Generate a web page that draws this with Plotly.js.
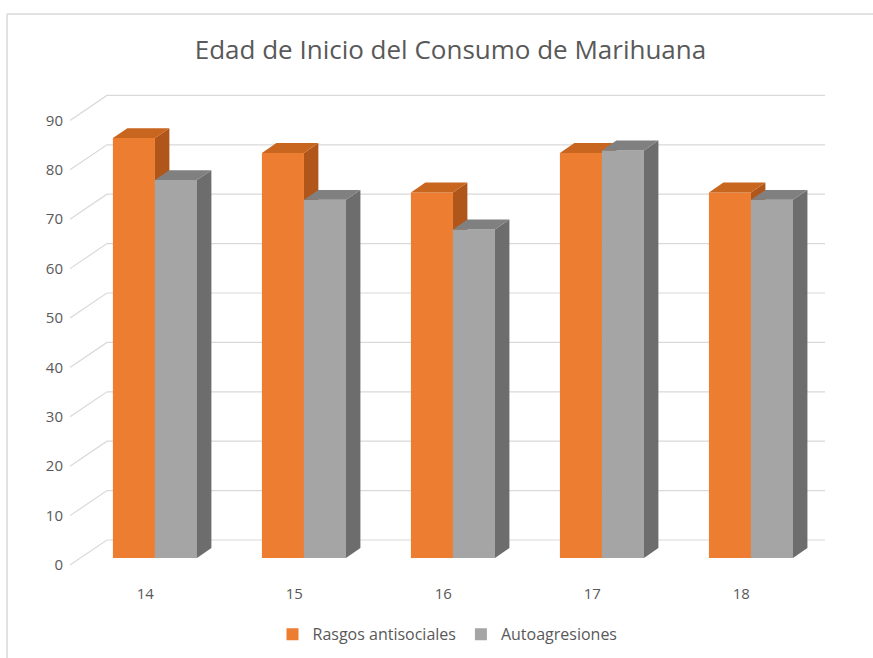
<!DOCTYPE html>
<html>
<head>
<meta charset="utf-8">
<script src="https://cdn.plot.ly/plotly-3.0.1.min.js"></script>
<style>
  html, body { margin: 0; padding: 0; background: #ffffff; }
  #chart { width: 873px; height: 658px; }
</style>
</head>
<body>
<div id="chart"></div>
<script>
// ---- data ----
const categories = ['14', '15', '16', '17', '18'];
const rasgos = [85, 82, 74, 82, 74];          // Rasgos antisociales
const autoagresiones = [76.5, 72.5, 66.5, 82.5, 72.5]; // Autoagresiones
const yTicks = [0, 10, 20, 30, 40, 50, 60, 70, 80, 90];
const seriesNames = ['Rasgos antisociales', 'Autoagresiones'];

// ---- styling / geometry ----
const txt = '#595959';
const gridCol = '#D9D9D9';
const fontFam = '"Open Sans", "Liberation Sans", sans-serif';
const barW = 0.282;        // bar width in category units
const depthX = 0.097;      // 3D depth offset (x units)
const depthY = 2.0;        // 3D depth offset (value units)
const labelShift = 1.42;   // front label plane offset
const wallShift = 3.64;    // back wall offset from bar plane
const xRange = [-0.57, 4.497];
const yBarRange = [-5.06, 95.75];
const yLabRange = [yBarRange[0] + labelShift, yBarRange[1] + labelShift];
const xFront = -0.57, xBack = -0.322;

const colors = {
  orange: {front: '#ED7D31', side: '#B0561A', top: '#C8651F'},
  gray:   {front: '#A5A5A5', side: '#6D6D6D', top: '#808080'}
};

const idx = categories.map((c, i) => i);
const traces = [];

// gridlines (base subplot, label coordinates)
yTicks.forEach(v => {
  traces.push({
    type: 'scatter', mode: 'lines', xaxis: 'x', yaxis: 'y',
    x: [xFront, xBack, xRange[1]],
    y: [v, v + labelShift + wallShift, v + labelShift + wallShift],
    line: {color: gridCol, width: 1.2}, showlegend: false, hoverinfo: 'skip'
  });
});

function addSeries(vals, name, col, xa, ya, offset) {
  traces.push({
    type: 'bar', name: name, x: idx, y: vals, xaxis: xa, yaxis: ya,
    width: barW, offset: offset, marker: {color: col.front, line: {width: 0}},
    showlegend: true, hoverinfo: 'skip'
  });
  vals.forEach((h, i) => {
    const xl = i + offset, xr = i + offset + barW;
    // side face
    traces.push({
      type: 'scatter', mode: 'lines', fill: 'toself', xaxis: xa, yaxis: ya,
      x: [xr, xr, xr + depthX, xr + depthX, xr],
      y: [0, h, h + depthY, depthY, 0],
      fillcolor: col.side, line: {width: 0, color: col.side},
      showlegend: false, hoverinfo: 'skip'
    });
    // top face
    traces.push({
      type: 'scatter', mode: 'lines', fill: 'toself', xaxis: xa, yaxis: ya,
      x: [xl, xr, xr + depthX, xl + depthX, xl],
      y: [h, h, h + depthY, h + depthY, h],
      fillcolor: col.top, line: {width: 0, color: col.top},
      showlegend: false, hoverinfo: 'skip'
    });
  });
}
addSeries(rasgos, seriesNames[0], colors.orange, 'x2', 'y2', -barW);
addSeries(autoagresiones, seriesNames[1], colors.gray, 'x3', 'y3', 0);

const hiddenAxis = (ov, rng) => ({
  overlaying: ov, range: rng, visible: false, fixedrange: true,
  showgrid: false, zeroline: false
});

const layout = {
  width: 873, height: 658,
  margin: {l: 70, r: 48, t: 85, b: 75, autoexpand: false},
  paper_bgcolor: '#ffffff', plot_bgcolor: 'rgba(0,0,0,0)',
  font: {family: fontFam, color: txt, size: 15},
  title: {
    text: 'Edad de Inicio del Consumo de Marihuana',
    font: {family: fontFam, size: 26, color: txt},
    x: 0.516, xanchor: 'center', y: 0.924, yanchor: 'middle'
  },
  showlegend: true,
  legend: {
    orientation: 'h', x: 0.5, xanchor: 'center',
    yref: 'container', y: 0.036, yanchor: 'middle',
    font: {size: 16, color: txt}, itemwidth: 30, tracegroupgap: 0
  },
  xaxis: {
    range: xRange, tickmode: 'array',
    tickvals: idx.map(i => i - 0.065), ticktext: categories,
    showgrid: false, zeroline: false, showline: false, ticks: '',
    tickfont: {size: 15, color: txt}, fixedrange: true
  },
  yaxis: {
    range: yLabRange, tickmode: 'array', tickvals: yTicks,
    ticktext: yTicks.map(String),
    showgrid: false, zeroline: false, showline: false, ticks: '',
    ticklabelstandoff: 6,
    tickfont: {size: 15, color: txt}, fixedrange: true
  },
  xaxis2: hiddenAxis('x', xRange),
  yaxis2: hiddenAxis('y', yBarRange),
  xaxis3: hiddenAxis('x', xRange),
  yaxis3: hiddenAxis('y', yBarRange),
  barmode: 'overlay',
  hovermode: false,
  shapes: [
    {type: 'line', xref: 'paper', yref: 'paper', x0: -0.0834, x1: 1.07, y0: 1.1426, y1: 1.1426,
     line: {color: gridCol, width: 1.5}},
    {type: 'line', xref: 'paper', yref: 'paper', x0: -0.0834, x1: -0.0834, y0: 1.1426, y1: -0.16,
     line: {color: gridCol, width: 1.5}}
  ]
};

Plotly.newPlot('chart', traces, layout, {displayModeBar: false, staticPlot: true});
</script>
</body>
</html>
